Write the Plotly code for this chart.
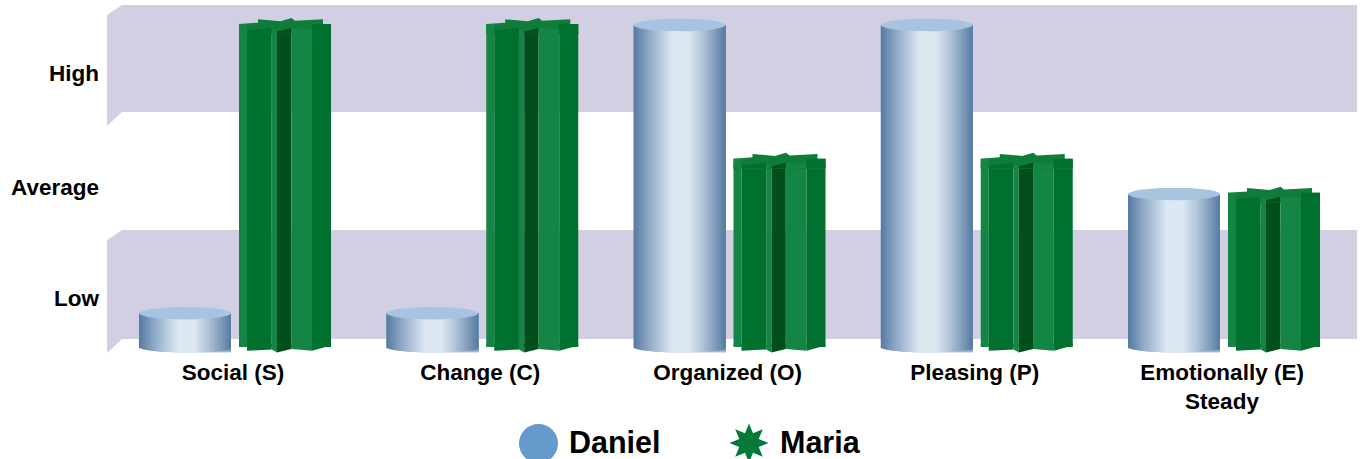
import math
import plotly.graph_objects as go

categories = ["Social (S)", "Change (C)", "Organized (O)", "Pleasing (P)", "Emotionally (E)<br>Steady"]
daniel = [10.5, 10.5, 100, 100, 47.5]
maria = [100.3, 100.3, 58.5, 58.5, 47.9]
level_labels = ["Low", "Average", "High"]
level_positions = [15.2, 49.7, 85.1]
high_band = [73, 106.2]
low_band = [2.5, 36.3]

PX_X = 247.25
PX_Y = 3.22
X0 = 235.0
BASE_PY = 347.0
W = 92 / PX_X
OFF_D = -96 / PX_X
OFF_M = 4 / PX_X
BAND = "#d1cfe1"
CAP = "#a6c4e0"
F_LIGHT = "#148544"
F_MID = "#00702f"
F_DARK = "#004f1d"


def hx(c):
    return [int(c[i:i + 2], 16) for i in (1, 3, 5)]


grad = [(0, "#557aa3"), (.15, "#8aa5c3"), (.3, "#b8cbdf"), (.42, "#dde8f3"), (.6, "#dde8f3"),
        (.75, "#b0c4da"), (.9, "#7d99b9"), (1, "#557aa3")]


def grad_col(t):
    for (a, ca), (b, cb) in zip(grad, grad[1:]):
        if t <= b:
            u = (t - a) / (b - a)
            A, B = hx(ca), hx(cb)
            return "rgb(%d,%d,%d)" % tuple(A[i] + (B[i] - A[i]) * u for i in range(3))
    return grad[-1][1]


fig = go.Figure()
n_cat = len(categories)
xs = list(range(n_cat))

# cylinders: painter's-order strips of the bar, each reaching to the right edge
N = 46
for k in range(N):
    t0 = k / N
    tc = (k + .5) / N
    depth = 5.5 / PX_Y * math.sqrt(max(0, 1 - (2 * tc - 1) ** 2))
    fig.add_trace(go.Bar(x=xs, y=[v + depth for v in daniel], base=[-depth] * n_cat,
                         width=W * (1 - t0), offset=OFF_D + W * t0,
                         marker=dict(color=grad_col(tc), line=dict(width=0)),
                         name="Daniel", showlegend=False, hoverinfo="skip"))
# cylinder caps
cx, cy = [], []
for i, v in enumerate(daniel):
    for a in range(0, 61):
        th = a / 60 * 2 * math.pi
        cx.append(i + OFF_D + W / 2 + W / 2 * math.cos(th))
        cy.append(v + 6.3 / PX_Y * math.sin(th))
    cx.append(None)
    cy.append(None)
fig.add_trace(go.Scatter(x=cx, y=cy, mode="lines", fill="toself", fillcolor=CAP, line=dict(width=0),
                         showlegend=False, hoverinfo="skip"))

# Star columns: facets as fractions of the bar width, with px drop of the
# top and bottom edges at each facet's two ends.
fr = [0, 8 / 92, 32.7 / 92, 38 / 92, 52.3 / 92, 73 / 92, 1]
top_drop = [(0, 0), (6.5, 4), (4, 7.5), (7.5, 4), (4, 5), (0, 0)]
bot_drop = [(0, 1.3), (5.4, 4), (4, 7), (7, 3.7), (3.7, 5.4), (5.4, 0)]
facet_col = [F_LIGHT, F_MID, F_LIGHT, F_DARK, F_LIGHT, F_MID]

# star top face drawn first
star_top = [(0, 0), (19 / 92, -1.3), (19 / 92, -4.7), (41.5 / 92, -2.7), (52.5 / 92, -6), (56 / 92, -3.2),
            (84 / 92, -4.7), (84 / 92, 0), (1, 0), (1, 10), (0, 10)]
tx, ty = [], []
for i, v in enumerate(maria):
    for f, d in star_top:
        tx.append(i + OFF_M + W * f)
        ty.append(v - d / PX_Y)
    tx.append(None)
    ty.append(None)
fig.add_trace(go.Scatter(x=tx, y=ty, mode="lines", fill="toself", fillcolor="#0f7d3a", line=dict(width=0),
                         showlegend=False, hoverinfo="skip"))

for j, col in enumerate(facet_col):
    fig.add_trace(go.Bar(x=xs, y=[v - 2 for v in maria], base=[0] * n_cat,
                         width=W * (fr[j + 1] - fr[j]), offset=OFF_M + W * fr[j],
                         marker=dict(color=col, line=dict(width=0)),
                         name="Maria", showlegend=False, hoverinfo="skip"))
    px_, py_ = [], []
    for i, v in enumerate(maria):
        a = i + OFF_M + W * fr[j]
        b = i + OFF_M + W * fr[j + 1]
        ta, tb = top_drop[j]
        ba, bb = bot_drop[j]
        # top wedge
        px_ += [a, b, b, a, a, None]
        py_ += [v - ta / PX_Y, v - tb / PX_Y, v - 3, v - 3, v - ta / PX_Y, None]
        # bottom wedge
        px_ += [a, b, b, a, a, None]
        py_ += [-ba / PX_Y + .5, -bb / PX_Y + .5, 1, 1, -ba / PX_Y + .5, None]
    fig.add_trace(go.Scatter(x=px_, y=py_, mode="lines", fill="toself", fillcolor=col, line=dict(width=0),
                             showlegend=False, hoverinfo="skip"))

# x <-> px helpers for the plot frame
left = (107 - X0) / PX_X
right = (1357 - X0) / PX_X
yb = (BASE_PY - 353) / PX_Y
yt = (BASE_PY - 5) / PX_Y
sx = 15 / PX_X
sy = 14 / PX_Y

shapes = []
for lo, hi in (low_band, high_band):
    shapes.append(dict(type="path", layer="below", fillcolor=BAND, line=dict(width=0), xref="x", yref="y",
                       path=f"M {left} {lo - sy} L {left + sx} {lo} L {right} {lo} L {right} {hi} "
                            f"L {left + sx} {hi} L {left} {hi - sy * .72} Z"))

# legend glyphs, paper coordinates
PW, PH = 1250, 348


def pxx(p):
    return (p - 107) / PW


def pxy(p):
    return (353 - p) / PH


shapes.append(dict(type="circle", xref="paper", yref="paper", fillcolor="#6699cc", line=dict(width=0),
                   x0=pxx(519), x1=pxx(558), y0=pxy(424), y1=pxy(463)))
pts = []
for a in range(16):
    th = math.pi / 2 + a * math.pi / 8
    r = 19.5 if a % 2 == 0 else 10.5
    pts.append((pxx(749 + r * math.cos(th)), pxy(443 - r * math.sin(th))))
shapes.append(dict(type="path", xref="paper", yref="paper", fillcolor="#047a38", line=dict(width=0),
                   path="M " + " L ".join(f"{a} {b}" for a, b in pts) + " Z"))

FONT = "Liberation Sans"
anns = [dict(text="<b>Daniel</b>", x=pxx(567), y=pxy(442), xref="paper", yref="paper", xanchor="left",
             yanchor="middle", showarrow=False, font=dict(family=FONT, size=30.5, color="#000")),
        dict(text="<b>Maria</b>", x=pxx(778), y=pxy(442), xref="paper", yref="paper", xanchor="left",
             yanchor="middle", showarrow=False, font=dict(family=FONT, size=30.5, color="#000"))]

fig.update_layout(
    width=1362, height=459, margin=dict(l=107, r=5, t=5, b=106, pad=0),
    paper_bgcolor="white", plot_bgcolor="white", barmode="overlay", showlegend=False,
    shapes=shapes, annotations=anns,
    font=dict(family=FONT, color="#000"),
    xaxis=dict(range=[left, right], tickvals=[x - 2 / PX_X for x in xs], ticktext=[f"<b>{c}</b>" for c in categories],
               showgrid=False, zeroline=False, showline=False, ticks="", ticklabelstandoff=3,
               tickfont=dict(family=FONT, size=22.5, color="#000"), tickangle=0),
    yaxis=dict(range=[yb, yt], tickvals=level_positions, ticktext=[f"<b>{c}</b>" for c in level_labels],
               showgrid=False, zeroline=False, showline=False, ticks="", ticklabelstandoff=7,
               tickfont=dict(family=FONT, size=22.5, color="#000")),
)
fig.write_html("out.html", config={"displayModeBar": False},
               post_script="document.body.style.margin='0';document.body.style.overflow='hidden';")
